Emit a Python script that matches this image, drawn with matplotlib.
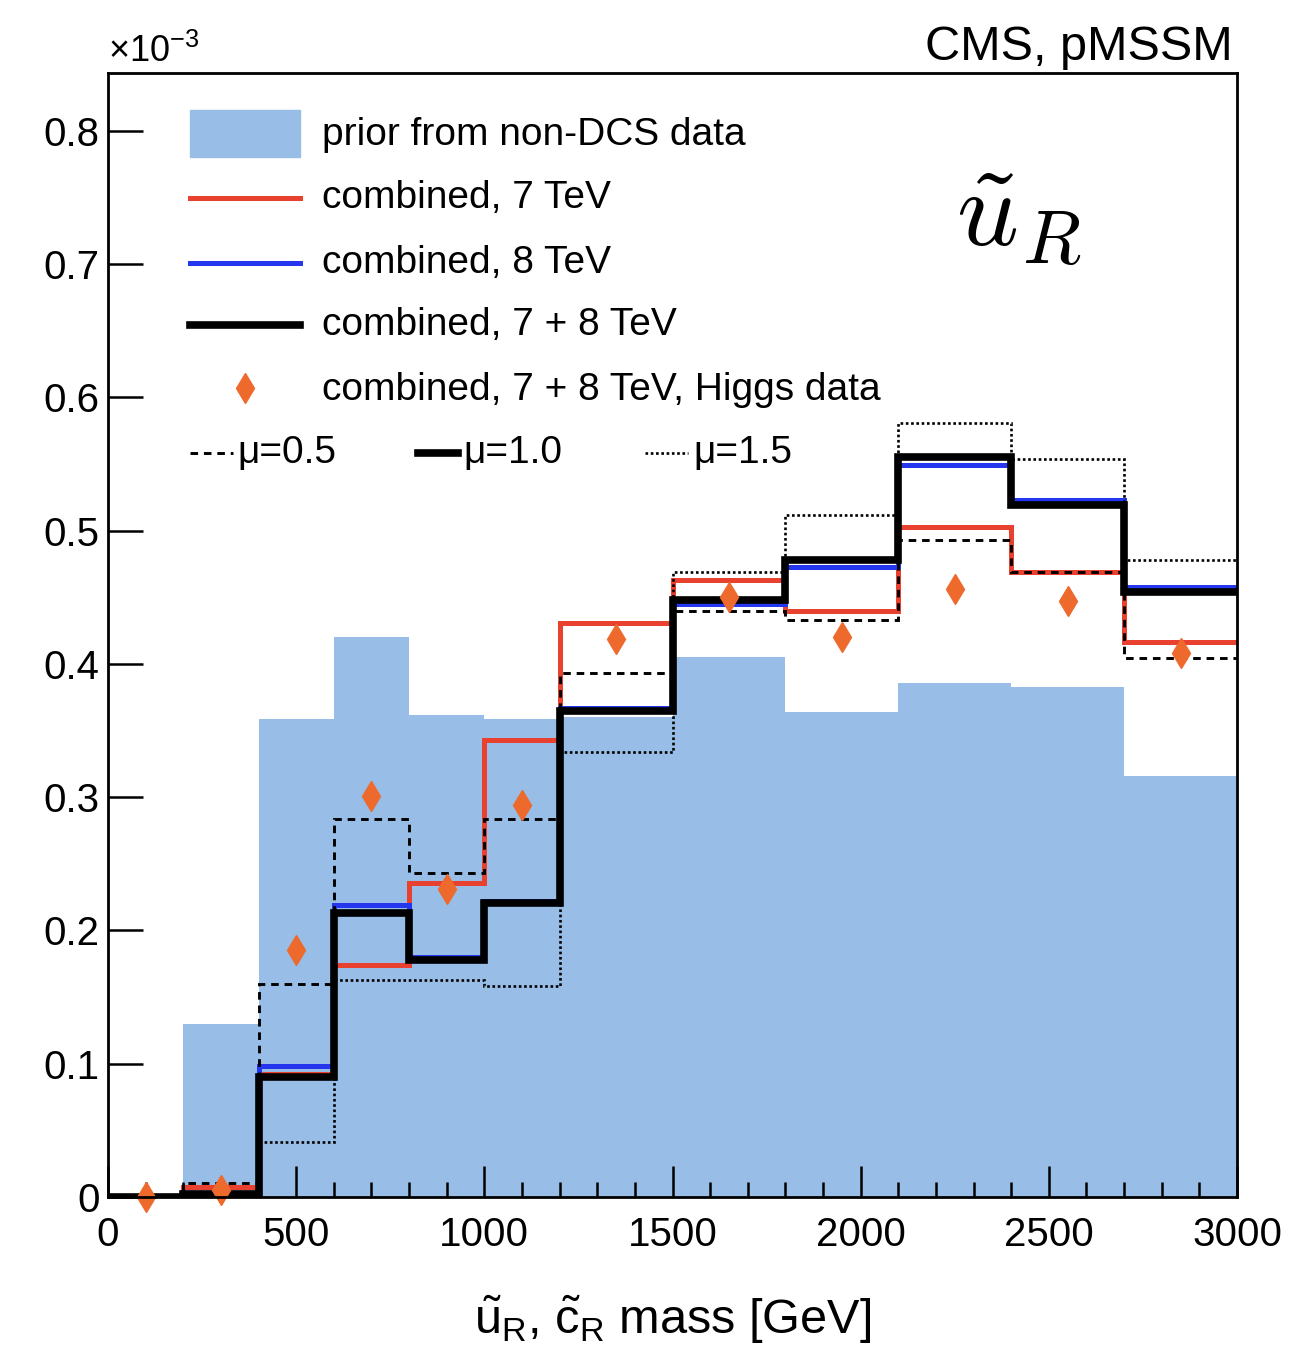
import numpy as np
import matplotlib
matplotlib.use("Agg")
import matplotlib.pyplot as plt
from matplotlib.lines import Line2D
from matplotlib.patches import Rectangle

plt.rcParams['font.family'] = ['Liberation Sans', 'DejaVu Sans']
plt.rcParams['mathtext.fontset'] = 'custom'
plt.rcParams['mathtext.rm'] = 'Liberation Sans'
plt.rcParams['mathtext.it'] = 'Liberation Sans:italic'

# bin edges in GeV
edges = [0, 200, 400, 600, 800, 1000, 1200, 1500, 1800, 2100, 2400, 2700, 3000]
centers = [100, 300, 500, 700, 900, 1100, 1350, 1650, 1950, 2250, 2550, 2850]

# values in units of 1e-3
prior = [0.0, 0.130, 0.359, 0.420, 0.362, 0.359, 0.360, 0.405, 0.364, 0.386, 0.383, 0.316]
comb7 = [0.0, 0.0075, 0.092, 0.174, 0.236, 0.343, 0.431, 0.463, 0.440, 0.503, 0.469, 0.4165]
comb8 = [0.0, 0.003, 0.098, 0.219, 0.180, 0.222, 0.367, 0.445, 0.473, 0.549, 0.523, 0.458]
comb78 = [0.0, 0.002, 0.090, 0.213, 0.178, 0.221, 0.365, 0.448, 0.478, 0.555, 0.519, 0.454]
mu05 = [0.0, 0.0105, 0.160, 0.284, 0.243, 0.284, 0.393, 0.440, 0.433, 0.493, 0.469, 0.4045]
mu15 = [0.0, 0.004, 0.041, 0.163, 0.163, 0.158, 0.334, 0.469, 0.512, 0.581, 0.554, 0.478]
higgs = [0.0, 0.005, 0.185, 0.301, 0.231, 0.294, 0.419, 0.450, 0.420, 0.456, 0.447, 0.408]

c_fill = '#98bde6'
c_red = '#e8412f'
c_blue = '#2436ee'
c_orange = '#ee6a2c'

W, H = 1306, 1369
fig = plt.figure(figsize=(W / 100, H / 100), dpi=100)
ax = fig.add_axes([108 / W, 1 - 1197 / H, (1237 - 108) / W, (1197 - 73) / H])

dash = (0, (2.6, 2.0))
dot = (0, (1, 1.0))

ax.stairs(prior, edges, fill=True, color=c_fill, zorder=1)
ax.stairs(comb7, edges, baseline=None, color=c_red, lw=3.6, zorder=3)
ax.stairs(comb8, edges, baseline=None, color=c_blue, lw=3.6, zorder=4)
ax.stairs(comb78, edges, baseline=None, color='black', lw=5.5, zorder=5)
ax.stairs(mu05, edges, baseline=None, color='black', lw=2.1, linestyle=dash, zorder=6)
ax.stairs(mu15, edges, baseline=None, color='black', lw=1.9, linestyle=dot, zorder=6)
ax.plot(centers, higgs, 'd', color=c_orange, ms=15, mec=c_orange, zorder=8,
        clip_on=False)

ax.set_xlim(0, 3000)
ax.set_ylim(0, 0.8435)
ax.set_xticks(np.arange(0, 3001, 500))
ax.set_xticks(np.arange(0, 3001, 100), minor=True)
ax.set_yticks(np.arange(0, 0.81, 0.1))
ax.set_yticklabels(['0', '0.1', '0.2', '0.3', '0.4', '0.5', '0.6', '0.7', '0.8'])
ax.tick_params(axis='both', which='both', direction='in', labelsize=29, width=1.8)
ax.tick_params(axis='x', which='major', length=22, pad=14)
ax.tick_params(axis='x', which='minor', length=11)
ax.tick_params(axis='y', which='major', length=25, pad=6)
for s in ax.spines.values():
    s.set_linewidth(2.0)
    s.set_zorder(10)

ax.set_xlabel(r'$\tilde{\mathrm{u}}_{\mathrm{R}}$, $\tilde{\mathrm{c}}_{\mathrm{R}}$ mass [GeV]',
              fontsize=35, labelpad=28)

fig.text(108 / W, 1 - 52 / H, r'$\times$10$^{-3}$', fontsize=26, va='center', ha='left')
fig.text(1233 / W, 1 - 47 / H, 'CMS, pMSSM', fontsize=35, va='center', ha='right')
ax.text(0.807, 0.87, r'$\tilde{u}_R$', transform=ax.transAxes, fontsize=78,
        math_fontfamily='cm', ha='center', va='center')


# legend, placed in figure pixels
def fx(px):
    return px / W


def fy(py):
    return 1 - py / H


fig.add_artist(Rectangle((fx(190), fy(157)), fx(300) - fx(190), fy(110) - fy(157),
                         transform=fig.transFigure, color=c_fill))
keys = [
    (135, None, 'prior from non-DCS data'),
    (198, dict(color=c_red, lw=3.6), 'combined, 7 TeV'),
    (263, dict(color=c_blue, lw=3.6), 'combined, 8 TeV'),
    (325, dict(color='black', lw=5.5), 'combined, 7 + 8 TeV'),
    (390, 'marker', 'combined, 7 + 8 TeV, Higgs data'),
]
for py, style, label in keys:
    if isinstance(style, dict):
        fig.add_artist(Line2D([fx(190), fx(300)], [fy(py), fy(py)],
                              transform=fig.transFigure, **style))
    elif style == 'marker':
        fig.add_artist(Line2D([fx(245)], [fy(py - 2)], transform=fig.transFigure,
                              marker='d', ms=15, color=c_orange, ls='none'))
    fig.text(fx(322), fy(py), label, fontsize=28, va='center', ha='left')

mu_keys = [
    (190, 233, 237, dict(color='black', lw=2.1, linestyle=dash), 'μ=0.5'),
    (418, 458, 463, dict(color='black', lw=5.5), 'μ=1.0'),
    (645, 688, 693, dict(color='black', lw=1.9, linestyle=dot), 'μ=1.5'),
]
for x0, x1, xt, style, label in mu_keys:
    fig.add_artist(Line2D([fx(x0), fx(x1)], [fy(453), fy(453)],
                          transform=fig.transFigure, **style))
    fig.text(fx(xt), fy(453), label, fontsize=28, va='center', ha='left')

fig.savefig('out.png', dpi=100)
